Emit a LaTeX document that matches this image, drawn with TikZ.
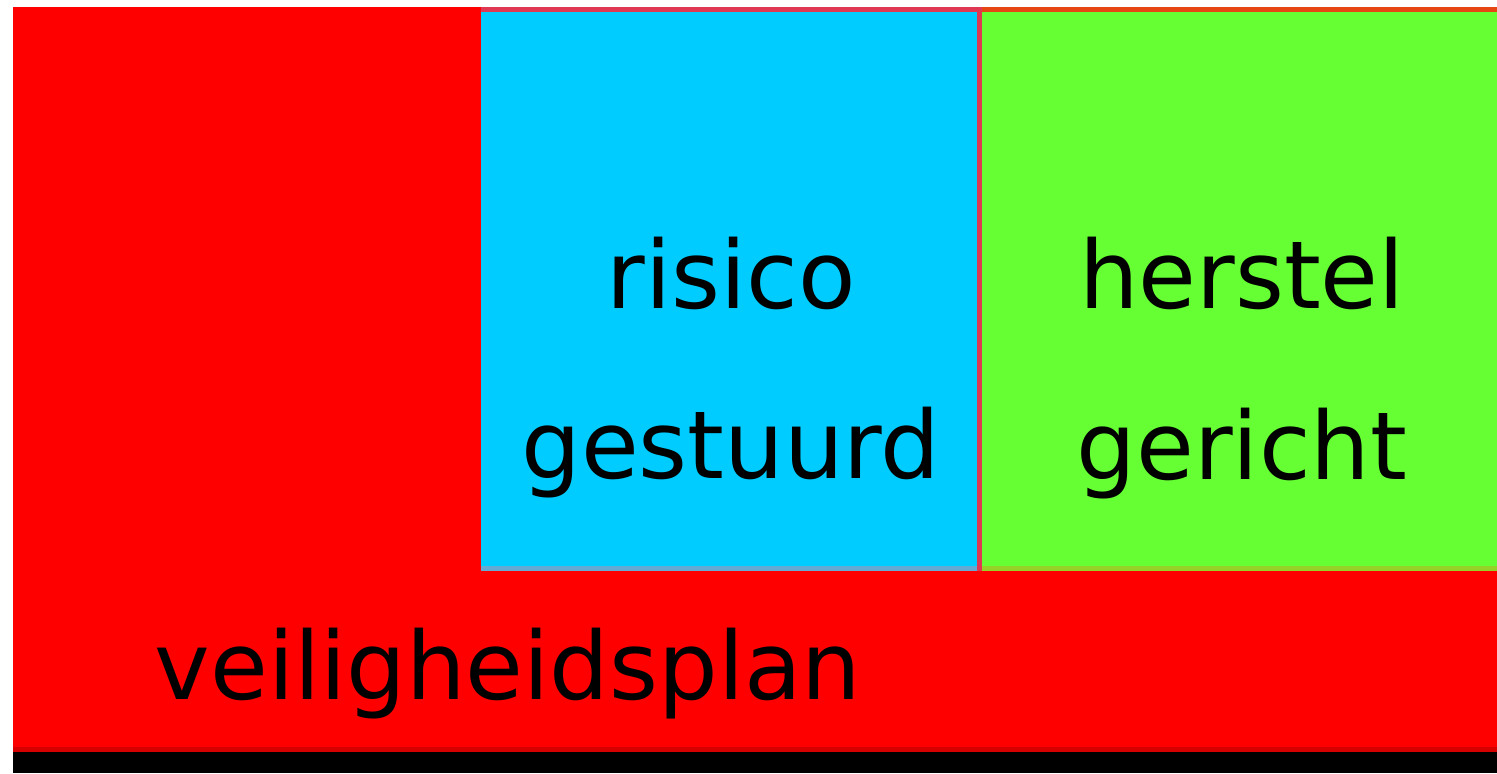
\documentclass[tikz,border=0pt]{standalone}
\usepackage{fontspec}
\setmainfont{DejaVu Sans}
\definecolor{bgred}{RGB}{255,0,0}
\definecolor{darkred}{RGB}{214,0,0}
\definecolor{boxblue}{RGB}{0,204,255}
\definecolor{boxgreen}{RGB}{102,255,51}
\definecolor{edgepink}{RGB}{222,56,82}
\definecolor{edgeorange}{RGB}{230,70,20}
\definecolor{edgesteel}{RGB}{100,170,210}
\definecolor{edgeolive}{RGB}{150,210,40}
\tikzset{
  lbl/.style={inner sep=0pt, anchor=base, font=\fontsize{47}{56}\selectfont, text=black},
}
\begin{document}
\begin{tikzpicture}[x=0.5pt,y=-0.5pt]
\useasboundingbox (0,0) rectangle (1497,773);
\fill[white] (0,0) rectangle (1497,773);
% red background
\fill[bgred] (13,7) rectangle (1497,752);
\fill[darkred] (13,747) rectangle (1497,752);
\fill[black] (13,752) rectangle (1497,773);
% blue box
\fill[boxblue] (481,7) rectangle (980,571);
\fill[edgepink] (481,7) rectangle (980,12);
\fill[edgepink] (977,7) rectangle (982,571);
\fill[edgesteel] (481,566) rectangle (977,571);
% green box
\fill[boxgreen] (982,7) rectangle (1497,571);
\fill[edgeorange] (982,7) rectangle (1497,12);
\fill[edgeolive] (982,566) rectangle (1497,571);
\fill[edgepink] (977,566) rectangle (982,571);
% texts
\node[lbl] (r1) at (731,308) {risico};
\node[lbl] (r2) at (731,478) {gestuurd};
\node[lbl] (h1) at (1242,308) {herstel};
\node[lbl] (h2) at (1242,479) {gericht};
\node[lbl] (v) at (508,699) {veiligheidsplan};
\end{tikzpicture}
\end{document}
